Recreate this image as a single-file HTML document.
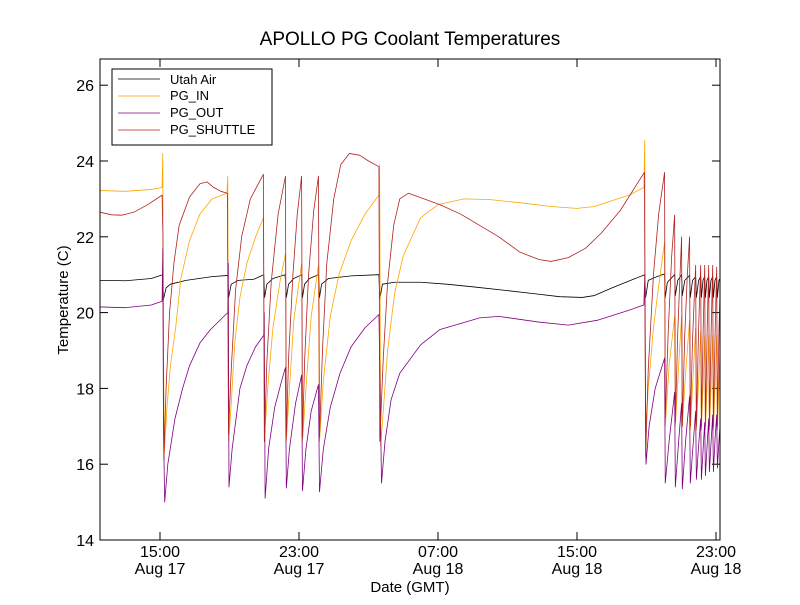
<!DOCTYPE html>
<html><head><meta charset="utf-8"><style>
body{margin:0;background:#fff;}
svg text{font-family:"Liberation Sans","DejaVu Sans",sans-serif;}
</style></head><body>
<svg id="chart" width="800" height="600" viewBox="0 0 800 600" xmlns="http://www.w3.org/2000/svg">
<rect width="800" height="600" fill="#fff"/>
<text x="410" y="45" font-size="19" text-anchor="middle">APOLLO PG Coolant Temperatures</text>
<defs><clipPath id="clip"><rect x="100" y="59" width="620" height="481"/></clipPath></defs>
<g id="axes"></g>
<g id="series" clip-path="url(#clip)"></g>
<rect x="100" y="59" width="620" height="481" fill="none" stroke="#000" stroke-width="1"/>
<text x="0" y="0" transform="translate(68,300) rotate(-90)" font-size="15" text-anchor="middle">Temperature (C)</text>
<text x="410" y="592" font-size="15" text-anchor="middle">Date (GMT)</text>
<g>
<rect x="112" y="69" width="160" height="76" fill="#fff" stroke="#000" stroke-width="1"/>
<line x1="118" y1="79" x2="160" y2="79" stroke="#000" stroke-width="0.8"/>
<text x="170" y="84" font-size="13">Utah Air</text>
<line x1="118" y1="96" x2="160" y2="96" stroke="#ffa500" stroke-width="0.8"/>
<text x="170" y="100" font-size="13">PG_IN</text>
<line x1="118" y1="113" x2="160" y2="113" stroke="#800080" stroke-width="0.8"/>
<text x="170" y="117" font-size="13">PG_OUT</text>
<line x1="118" y1="130" x2="160" y2="130" stroke="#b22222" stroke-width="0.8"/>
<text x="170" y="134" font-size="13">PG_SHUTTLE</text>
</g>
</svg>
<script>
const yTicks=[14,16,18,20,22,24,26];
const xTickHours=[15,23,31,39,47];
const xTickTimes=["15:00","23:00","07:00","15:00","23:00"];
const xTickDates=["Aug 17","Aug 17","Aug 18","Aug 18","Aug 18"];
const utahAir=[[11.55,20.85],[13,20.84],[14.5,20.9],[15.15,21.0],[15.2,20.35],[15.35,20.65],[15.6,20.75],[16.5,20.85],[18,20.95],[18.9,20.98],[18.95,20.4],[19.1,20.75],[19.5,20.85],[20.4,20.88],[20.97,21.0],[21.02,20.4],[21.15,20.75],[21.5,20.9],[22.2,21.0],[22.27,20.4],[22.4,20.75],[22.7,20.9],[23.15,21.0],[23.2,20.4],[23.32,20.75],[23.6,20.9],[24.12,21.0],[24.18,20.4],[24.3,20.75],[24.7,20.9],[26,20.97],[27.6,21.0],[27.65,20.35],[27.8,20.75],[28.5,20.8],[30,20.8],[31.5,20.75],[33,20.68],[35,20.58],[36.5,20.5],[38,20.42],[39.3,20.4],[40,20.45],[41,20.65],[42.9,21.0],[42.95,20.4],[43.1,20.85],[43.6,20.95],[44.04,21.02],[44.08,20.4],[44.2,20.8],[44.62,21.0],[44.66,20.45],[44.8,20.85],[45.02,21.0],[45.06,20.45],[45.2,20.85],[45.48,20.98],[45.52,20.4],[45.65,20.85],[45.83,20.95],[45.87,20.4],[46.0,20.85],[46.12,20.95],[46.16,20.4],[46.25,20.85],[46.35,20.95],[46.39,20.4],[46.48,20.85],[46.58,20.95],[46.62,20.4],[46.71,20.85],[46.81,20.95],[46.85,20.4],[46.94,20.85],[47.04,20.95],[47.08,20.4],[47.17,20.85],[47.23,20.9]];
const pgIn=[[11.55,23.22],[13,23.2],[14.5,23.25],[15.12,23.3],[15.16,24.2],[15.2,19],[15.25,16.3],[15.4,17.5],[15.6,18.6],[15.9,19.6],[16.2,20.9],[16.7,21.9],[17.3,22.6],[18,23.0],[18.85,23.15],[18.9,23.6],[18.95,16.6],[19.1,17.6],[19.3,19.2],[19.6,20.4],[20.0,21.3],[20.5,22.0],[20.95,22.5],[21.0,16.6],[21.2,18.0],[21.5,19.6],[21.9,20.8],[22.22,21.55],[22.27,16.6],[22.45,18.0],[22.7,19.8],[23.15,21.3],[23.2,16.6],[23.4,18.0],[23.7,19.9],[24.12,21.25],[24.18,16.6],[24.4,18.2],[24.8,19.9],[25.3,21.0],[26,21.9],[26.8,22.6],[27.6,23.1],[27.64,23.9],[27.7,16.5],[27.85,17.4],[28.1,19.0],[28.5,20.5],[29.0,21.5],[30,22.5],[31,22.85],[32.5,23.0],[34,22.98],[35.7,22.9],[37.5,22.8],[39,22.75],[40,22.8],[41,22.95],[42,23.1],[42.85,23.3],[42.9,24.55],[42.95,17.0],[43.1,18.0],[43.4,19.6],[43.7,20.7],[44.04,21.85],[44.08,17.0],[44.3,18.6],[44.62,19.9],[44.66,17.0],[44.85,18.6],[45.02,19.9],[45.06,17.0],[45.25,18.4],[45.48,19.8],[45.52,16.9],[45.68,18.3],[45.83,19.6],[45.87,16.9],[46.0,18.2],[46.12,19.5],[46.16,16.9],[46.26,18.1],[46.35,19.4],[46.39,16.9],[46.49,18.1],[46.58,19.4],[46.62,16.9],[46.72,18.1],[46.81,19.4],[46.85,16.9],[46.95,18.1],[47.04,19.4],[47.08,16.9],[47.17,18.1],[47.23,19.0]];
const pgOut=[[11.55,20.15],[13,20.13],[14.5,20.2],[15.12,20.3],[15.16,21.7],[15.2,17],[15.27,15.0],[15.45,16.0],[15.86,17.2],[16.3,18.0],[16.7,18.6],[17.3,19.2],[17.9,19.55],[18.9,20.0],[18.93,21.3],[18.97,15.4],[19.15,16.4],[19.6,18.0],[20.0,18.6],[20.5,19.1],[20.97,19.4],[21.0,20.0],[21.05,15.1],[21.25,16.4],[21.6,17.5],[22.0,18.2],[22.22,18.55],[22.27,15.37],[22.45,16.4],[22.8,17.6],[23.15,18.35],[23.2,15.3],[23.4,16.4],[23.7,17.4],[24.12,18.1],[24.18,15.27],[24.4,16.4],[24.8,17.5],[25.36,18.4],[26,19.1],[26.8,19.6],[27.6,19.95],[27.75,15.5],[27.95,16.6],[28.3,17.7],[28.8,18.4],[30,19.15],[31.1,19.55],[33.4,19.86],[34.5,19.9],[36.8,19.75],[38.5,19.67],[40.2,19.8],[41.9,20.05],[42.85,20.2],[42.9,21.0],[42.97,16.0],[43.15,17.0],[43.5,18.0],[44.04,18.8],[44.08,15.5],[44.3,16.6],[44.62,17.9],[44.66,15.4],[44.85,16.6],[45.02,17.6],[45.06,15.35],[45.25,16.6],[45.48,17.8],[45.52,15.5],[45.68,16.5],[45.83,17.4],[45.87,15.6],[46.0,16.5],[46.12,17.2],[46.16,15.6],[46.26,16.4],[46.35,17.1],[46.39,15.7],[46.49,16.5],[46.58,17.2],[46.62,15.8],[46.72,16.6],[46.81,17.3],[46.85,15.8],[46.95,16.7],[47.04,17.3],[47.08,15.9],[47.17,16.6],[47.23,17.0]];
const pgShuttle=[[11.55,22.65],[12.2,22.58],[12.8,22.57],[13.5,22.65],[14.3,22.85],[15.12,23.1],[15.17,22.0],[15.22,16.1],[15.35,18.0],[15.55,20.0],[15.8,21.3],[16.1,22.3],[16.7,23.05],[17.3,23.4],[17.7,23.45],[18.1,23.3],[18.5,23.2],[18.88,23.15],[18.94,16.8],[19.1,18.5],[19.35,20.6],[19.7,22.0],[20.2,23.0],[20.95,23.65],[21.01,16.6],[21.15,18.7],[21.4,20.8],[21.8,22.6],[22.22,23.6],[22.27,16.7],[22.4,18.8],[22.65,21.0],[22.9,22.6],[23.15,23.6],[23.2,16.7],[23.33,18.8],[23.55,21.0],[23.85,22.7],[24.12,23.6],[24.18,16.7],[24.35,19.0],[24.6,21.3],[25.0,23.0],[25.4,23.9],[25.9,24.2],[26.5,24.15],[27.0,24.0],[27.6,23.85],[27.65,16.6],[27.85,18.8],[28.1,20.8],[28.45,22.3],[28.8,23.0],[29.3,23.15],[29.9,23.05],[31.1,22.85],[32.3,22.6],[33.4,22.3],[34.5,22.0],[35.7,21.6],[36.8,21.4],[37.5,21.35],[38.5,21.45],[39.5,21.7],[40.4,22.1],[41.5,22.7],[42.6,23.5],[42.88,23.7],[42.95,16.2],[43.1,18.5],[43.4,21.0],[43.7,22.6],[44.04,23.7],[44.08,17.2],[44.25,19.5],[44.45,21.5],[44.62,22.57],[44.66,17.1],[44.8,19.5],[44.93,21.0],[45.02,22.0],[45.06,17.0],[45.2,19.4],[45.35,21.0],[45.48,22.0],[45.52,17.0],[45.65,19.3],[45.83,21.25],[45.87,17.0],[46.0,19.6],[46.12,21.25],[46.16,17.0],[46.26,19.5],[46.35,21.25],[46.39,17.0],[46.49,19.5],[46.58,21.25],[46.62,17.0],[46.72,19.5],[46.81,21.25],[46.85,17.0],[46.95,19.5],[47.04,21.2],[47.08,17.0],[47.17,19.5],[47.23,20.5]];

const NS="http://www.w3.org/2000/svg";
function xS(h){return 160+(h-15)*17.375;}
function yS(v){return 540-(v-14)*37.9;}
function mk(tag,attrs,parent){const e=document.createElementNS(NS,tag);for(const k in attrs)e.setAttribute(k,attrs[k]);parent.appendChild(e);return e;}
const axes=document.getElementById('axes');
yTicks.forEach((v,i)=>{
  const y=yS(v);
  const t1=mk('line',{x1:100,y1:y,x2:108,y2:y,stroke:'#000'},axes);
  
  
  const t2=mk('line',{x1:712,y1:y,x2:720,y2:y,stroke:'#000'},axes);
  
  
  const tx=mk('text',{x:94,y:y+6,'font-size':16,'text-anchor':'end'},axes);
  tx.textContent=v;
  
  
});
xTickHours.forEach((h,i)=>{
  const x=xS(h);
  const t1=mk('line',{x1:x,y1:540,x2:x,y2:532,stroke:'#000'},axes);
  
  
  const t2=mk('line',{x1:x,y1:59,x2:x,y2:67,stroke:'#000'},axes);
  
  
  const a=mk('text',{x:x,y:557,'font-size':16,'text-anchor':'middle'},axes);
  a.textContent=xTickTimes[i];
  
  
  const b=mk('text',{x:x,y:574,'font-size':16,'text-anchor':'middle'},axes);
  b.textContent=xTickDates[i];
  
  
});
const sg=document.getElementById('series');
function drawLine(data,color,name){
  const d=data.map((p,i)=>(i?'L':'M')+xS(p[0]).toFixed(2)+','+yS(p[1]).toFixed(2)).join('');
  const p=mk('path',{d:d,fill:'none',stroke:color,'stroke-width':0.8,'stroke-linejoin':'round'},sg);
  
  
}
drawLine(utahAir,'#000','utah-air-line');
drawLine(pgIn,'#ffa500','pg-in-line');
drawLine(pgOut,'#800080','pg-out-line');
drawLine(pgShuttle,'#b22222','pg-shuttle-line');
</script>
</body></html>
